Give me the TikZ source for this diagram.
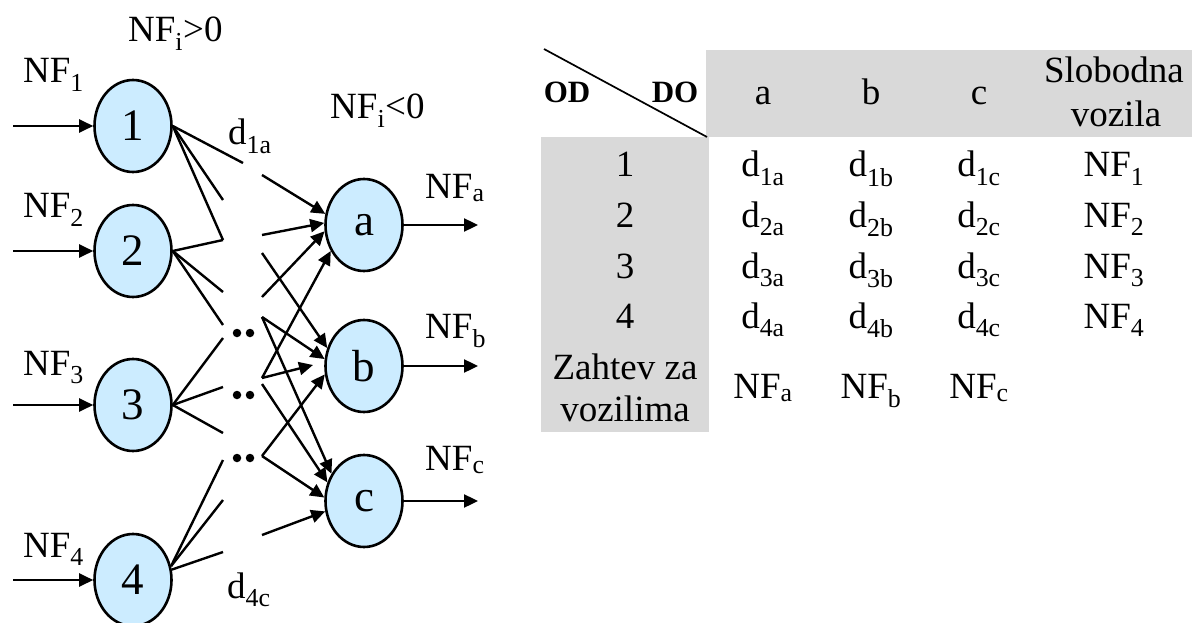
\documentclass[tikz,border=0pt]{standalone}
\usepackage{fontspec}
\setmainfont{Liberation Serif}
\usetikzlibrary{arrows.meta,shapes.geometric}
\definecolor{nodeblue}{RGB}{204,236,255}
\definecolor{cellgray}{RGB}{217,217,217}
\begin{document}
\begin{tikzpicture}[x=1pt,y=-1pt,
  vert/.style={ellipse,draw,line width=2.6pt,fill=nodeblue,minimum width=77pt,minimum height=92pt,inner sep=0pt,font=\fontsize{45}{48}\selectfont},
  conn/.style={line width=2.4pt},
  arr/.style={line width=2.4pt,-{Triangle[length=14pt,width=13pt]}},
  lbl/.style={anchor=base west,inner sep=0pt,font=\fontsize{37}{40}\selectfont},
  cell/.style={anchor=base,inner sep=0pt,font=\fontsize{37}{40}\selectfont},
  hd/.style={anchor=base,inner sep=0pt,font=\fontsize{31}{33}\selectfont\bfseries},
  dotn/.style={circle,fill,inner sep=0pt,minimum size=8.5pt}
]
\fill[white] (0,0) rectangle (1192,623);
\useasboundingbox (0,0) rectangle (1192,623);

% ---------- network ----------
\node[vert] (n1) at (133,126) {1};
\node[vert] (n2) at (133,251) {2};
\node[vert] (n3) at (133,405) {3};
\node[vert] (n4) at (133,580) {4};
\node[vert] (na) at (364,225) {a};
\node[vert] (nb) at (364,366) {b};
\node[vert] (nc) at (364,501) {c};

\coordinate (i1) at (13,126);
\coordinate (i2) at (13,251);
\coordinate (i3) at (13,405);
\coordinate (i4) at (13,580);
\coordinate (oa) at (478,225);
\coordinate (ob) at (478,366);
\coordinate (oc) at (478,501);
\draw[arr] (i1) -- (n1);
\draw[arr] (i2) -- (n2);
\draw[arr] (i3) -- (n3);
\draw[arr] (i4) -- (n4);
\draw[arr] (na) -- (oa);
\draw[arr] (nb) -- (ob);
\draw[arr] (nc) -- (oc);

\node[lbl] (tpos) at (128,42) {NF\textsubscript{i}>0};
\node[lbl] (tneg) at (330,119) {NF\textsubscript{i}<0};
\node[lbl] (t1) at (23,83) {NF\textsubscript{1}};
\node[lbl] (t2) at (23,218) {NF\textsubscript{2}};
\node[lbl] (t3) at (23,375) {NF\textsubscript{3}};
\node[lbl] (t4) at (23,557) {NF\textsubscript{4}};
\node[lbl] (ta) at (425,198) {NF\textsubscript{a}};
\node[lbl] (tb) at (425,338) {NF\textsubscript{b}};
\node[lbl] (tc) at (425,470) {NF\textsubscript{c}};
\node[lbl] (td1) at (228,145) {d\textsubscript{1a}};
\node[lbl] (td4) at (227,598) {d\textsubscript{4c}};

% left half-segments
\coordinate (l1) at (243,163);
\coordinate (l2) at (223,200);
\coordinate (l3) at (223,240);
\coordinate (l4) at (223,292);
\coordinate (l5) at (223,325);
\coordinate (l6) at (223,338);
\coordinate (l7) at (223,387);
\coordinate (l8) at (223,433);
\coordinate (l9) at (223,460);
\coordinate (l10) at (223,500);
\coordinate (l11) at (223,552);
\draw[conn] (n1.east) -- (l1);
\draw[conn] (n1.east) -- (l2);
\draw[conn] (n1.east) -- (l3);
\draw[conn] (n2.east) -- (l3);
\draw[conn] (n2.east) -- (l4);
\draw[conn] (n2.east) -- (l5);
\draw[conn] (n3.east) -- (l6);
\draw[conn] (n3.east) -- (l7);
\draw[conn] (n3.east) -- (l8);
\draw[conn] (n4.20) -- (l9);
\draw[conn] (n4.20) -- (l10);
\draw[conn] (n4.15) -- (l11);

% dots
\node[dotn] (p1) at (237,333) {};
\node[dotn] (p2) at (250,333) {};
\node[dotn] (p3) at (237,395) {};
\node[dotn] (p4) at (250,395) {};
\node[dotn] (p5) at (237,458) {};
\node[dotn] (p6) at (250,458) {};

% right half-segments
\coordinate (r1) at (262,175);
\coordinate (r2) at (262,235);
\coordinate (r3) at (262,253);
\coordinate (r4) at (262,297);
\coordinate (r5) at (262,317);
\coordinate (r6) at (262,378);
\coordinate (r7) at (262,384);
\coordinate (r8) at (262,456);
\coordinate (r9) at (262,535);
\coordinate (tbb) at (313,365);
\draw[arr] (r1) -- (na.164);
\draw[arr] (r2) -- (na.177);
\draw[arr] (r4) -- (na.189);
\draw[arr] (r6) -- (na.218);
\draw[arr] (r3) -- (nb.154);
\draw[arr] (r5) -- (nb.170);
\draw[arr] (r6) -- (tbb);
\draw[arr] (r8) -- (nb.192);
\draw[arr] (r5) -- (nc.140);
\draw[arr] (r7) -- (nc.153);
\draw[arr] (r8) -- (nc.175);
\draw[arr] (r9) -- (nc.195);

% ---------- table ----------
\fill[cellgray] (706,50) rectangle (1192,137);
\fill[cellgray] (541,137) rectangle (709,432);
\coordinate (dg1) at (544,49);
\coordinate (dg2) at (707,137);
\draw[line width=1.7pt] (dg1) -- (dg2);
\node[hd] (od) at (567,103) {OD};
\node[hd] (do) at (675,103) {DO};

\node[cell] (ha) at (763,105) {a};
\node[cell] (hb) at (871,105) {b};
\node[cell] (hc) at (979,105) {c};
\node[cell] (hs1) at (1114,83) {Slobodna};
\node[cell] (hs2) at (1116,127) {vozila};

\node[cell] (rh1) at (625,177) {1};
\node[cell] (rh2) at (625,227) {2};
\node[cell] (rh3) at (625,278) {3};
\node[cell] (rh4) at (625,328) {4};
\node[cell] (rh5) at (625,379) {Zahtev za};
\node[cell] (rh6) at (625,421) {vozilima};

\node[cell] (c1a) at (763,177) {d\textsubscript{1a}};
\node[cell] (c1b) at (871,177) {d\textsubscript{1b}};
\node[cell] (c1c) at (979,177) {d\textsubscript{1c}};
\node[cell] (c1s) at (1114,177) {NF\textsubscript{1}};
\node[cell] (c2a) at (763,227) {d\textsubscript{2a}};
\node[cell] (c2b) at (871,227) {d\textsubscript{2b}};
\node[cell] (c2c) at (979,227) {d\textsubscript{2c}};
\node[cell] (c2s) at (1114,227) {NF\textsubscript{2}};
\node[cell] (c3a) at (763,278) {d\textsubscript{3a}};
\node[cell] (c3b) at (871,278) {d\textsubscript{3b}};
\node[cell] (c3c) at (979,278) {d\textsubscript{3c}};
\node[cell] (c3s) at (1114,278) {NF\textsubscript{3}};
\node[cell] (c4a) at (763,328) {d\textsubscript{4a}};
\node[cell] (c4b) at (871,328) {d\textsubscript{4b}};
\node[cell] (c4c) at (979,328) {d\textsubscript{4c}};
\node[cell] (c4s) at (1114,328) {NF\textsubscript{4}};
\node[cell] (zna) at (763,398) {NF\textsubscript{a}};
\node[cell] (znb) at (871,398) {NF\textsubscript{b}};
\node[cell] (znc) at (979,398) {NF\textsubscript{c}};
\end{tikzpicture}
\end{document}
